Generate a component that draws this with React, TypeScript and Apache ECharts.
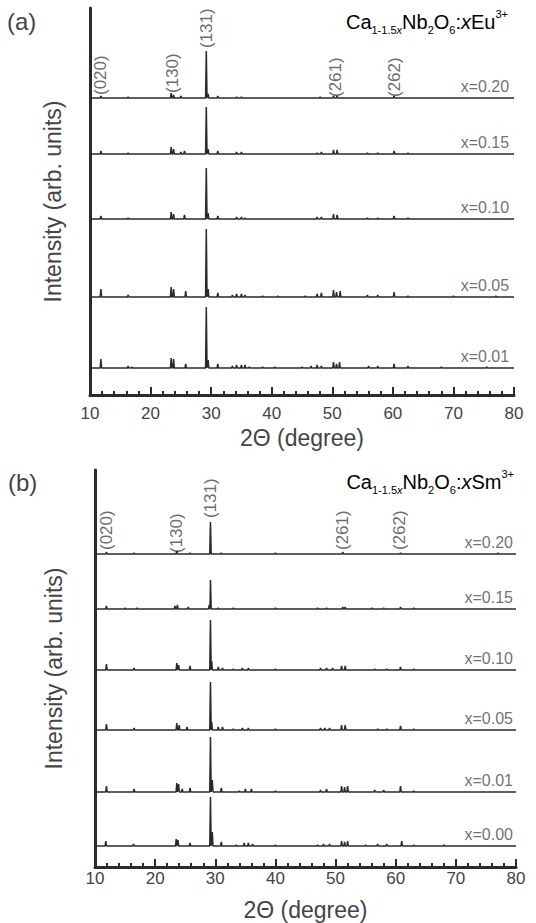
import React, { useEffect, useRef } from "react";
import * as echarts from "echarts";

// ---------- data ----------
const PEAK_LABELS = ["(020)", "(130)", "(131)", "(261)", "(262)"];
const EU_LABEL_POS = [11.8, 23.6, 29.2, 50.6, 60.3];
const EU_LABEL_Y = [300, 302, 347, 298, 298];
const SM_LABEL_POS = [11.9, 23.6, 29.2, 51.1, 60.6];
const SM_LABEL_Y = [317, 314, 349, 317, 317];

const EU_SAMPLES = ["x=0.20", "x=0.15", "x=0.10", "x=0.05", "x=0.01"];
const EU_OFFSETS = [297, 241, 176, 98, 27];
const SM_SAMPLES = ["x=0.20", "x=0.15", "x=0.10", "x=0.05", "x=0.01", "x=0.00"];
const SM_OFFSETS = [313, 258, 197, 137, 75, 21];

// Eu3+ patterns (peak 2θ positions and heights)
const EU020_POS = [11.8, 16.3, 23.4, 23.8, 25.0, 29.2, 29.5, 31.1, 34.2, 35.0, 48.0, 50.2, 50.8, 60.2];
const EU020_H = [2, 1, 5, 3, 2, 47, 4, 2, 1, 1, 1, 2, 2, 2];
const EU015_POS = [11.8, 16.3, 23.4, 23.8, 25.0, 25.6, 29.2, 29.5, 31.1, 34.2, 35.0, 47.5, 48.2, 50.2, 50.8, 55.8, 57.5, 60.2, 62.5];
const EU015_H = [3, 1, 7, 5, 2, 3, 47, 5, 3, 2, 2, 1, 2, 4, 4, 1, 1, 3, 1];
const EU010_POS = [11.8, 16.3, 23.4, 23.8, 25.6, 29.2, 29.5, 31.1, 34.2, 35.0, 35.6, 47.5, 48.2, 50.2, 50.8, 55.8, 57.5, 60.2, 62.5];
const EU010_H = [3, 1, 7, 5, 4, 51, 6, 3, 2, 2, 1, 2, 2, 5, 4, 1, 1, 3, 1];
const EU005_POS = [11.8, 16.3, 23.4, 23.8, 25.8, 29.2, 29.5, 31.1, 33.5, 34.2, 35.0, 35.6, 38.5, 41.0, 45.5, 47.5, 48.2, 50.2, 50.7, 51.3, 55.8, 57.5, 60.2, 62.5, 70.0, 77.0];
const EU005_H = [8, 2, 10, 8, 6, 68, 8, 4, 2, 3, 3, 2, 1, 1, 1, 3, 4, 7, 5, 6, 2, 2, 5, 1, 1, 1];
const EU001_POS = [11.8, 16.3, 16.9, 23.4, 23.8, 25.8, 29.2, 29.5, 31.1, 33.5, 34.2, 35.0, 35.6, 36.3, 38.5, 40.5, 45.0, 46.5, 47.5, 48.2, 50.2, 50.7, 51.2, 56.0, 57.5, 60.2, 62.5, 68.0, 75.5];
const EU001_H = [9, 2, 1, 10, 9, 4, 61, 8, 4, 2, 3, 3, 3, 1, 1, 1, 1, 2, 3, 2, 6, 4, 6, 2, 2, 4, 2, 1, 1];

// Sm3+ patterns
const SM020_POS = [11.9, 16.5, 23.6, 25.8, 29.2, 31.0, 40.0, 51.2, 60.8, 77.0];
const SM020_H = [2, 1, 3, 1, 32, 1, 1, 2, 1, 1];
const SM015_POS = [11.9, 15.0, 17.0, 23.3, 23.7, 25.5, 29.0, 29.2, 30.5, 33.0, 40.0, 47.0, 48.5, 51.2, 51.6, 56.0, 58.0, 60.8, 63.0];
const SM015_H = [3, 1, 1, 3, 4, 2, 4, 29, 1, 1, 1, 1, 1, 2, 2, 1, 1, 2, 1];
const SM010_POS = [11.9, 16.5, 23.6, 23.9, 25.8, 29.2, 29.4, 30.5, 31.2, 33.0, 34.5, 35.5, 40.0, 47.5, 48.5, 49.5, 51.0, 51.6, 56.5, 58.5, 60.8, 63.0];
const SM010_H = [6, 2, 7, 5, 4, 50, 9, 3, 2, 1, 2, 2, 1, 2, 2, 2, 4, 4, 1, 1, 3, 1];
const SM005_POS = [11.9, 16.5, 23.6, 24.0, 25.3, 29.2, 29.4, 30.5, 31.2, 33.0, 34.5, 35.5, 40.0, 47.5, 48.2, 49.0, 51.0, 51.6, 57.0, 58.5, 60.8, 63.0];
const SM005_H = [6, 2, 7, 5, 3, 48, 8, 3, 3, 1, 2, 2, 1, 2, 2, 2, 5, 5, 1, 1, 4, 1];
const SM001_POS = [11.9, 16.5, 23.6, 23.9, 24.5, 25.8, 29.2, 29.5, 31.0, 34.0, 35.0, 36.0, 40.0, 47.5, 48.5, 51.0, 51.5, 52.0, 56.5, 58.0, 60.8, 63.0];
const SM001_H = [6, 3, 9, 8, 3, 4, 55, 12, 4, 1, 3, 3, 1, 2, 3, 6, 5, 6, 2, 2, 6, 1];
const SM000_POS = [11.8, 16.4, 23.5, 23.8, 25.8, 29.2, 29.5, 31.0, 33.5, 34.8, 35.5, 36.2, 40.0, 47.0, 48.0, 49.0, 51.0, 51.5, 52.0, 55.0, 57.0, 58.5, 61.0, 63.0, 68.0];
const SM000_H = [5, 2, 7, 6, 3, 49, 14, 4, 1, 3, 3, 2, 1, 1, 2, 2, 5, 4, 5, 1, 2, 2, 5, 1, 1];

const EU_POS = [EU020_POS, EU015_POS, EU010_POS, EU005_POS, EU001_POS];
const EU_H = [EU020_H, EU015_H, EU010_H, EU005_H, EU001_H];
const SM_POS = [SM020_POS, SM015_POS, SM010_POS, SM005_POS, SM001_POS, SM000_POS];
const SM_H = [SM020_H, SM015_H, SM010_H, SM005_H, SM001_H, SM000_H];

const X_MIN = 10;
const X_MAX = 80;

// ---------- helpers ----------
function buildTrace(pos: number[], h: number[], offset: number, w = 0.12) {
  const pts: number[][] = [[X_MIN, offset]];
  pos.forEach((p, i) => {
    pts.push([p - w, offset]);
    pts.push([p, offset + h[i]]);
    pts.push([p + w, offset]);
  });
  pts.push([X_MAX, offset]);
  return pts;
}

const FONT = "Liberation Sans, Arial, sans-serif";
const TEXT = "#444";
const LINE = "#2a2a2a";

function axisPair(gridIndex: number, yMax: number, labelMargin: number, yNameGap: number) {
  const xAxis = {
    type: "value",
    gridIndex,
    min: X_MIN,
    max: X_MAX,
    interval: 10,
    name: "2\u0398 (degree)",
    nameLocation: "middle",
    nameGap: 31,
    nameTextStyle: { fontSize: 23, color: TEXT, fontFamily: FONT },
    axisLine: { show: true, lineStyle: { color: LINE, width: 3 } },
    axisTick: { show: true, inside: true, length: 8, lineStyle: { color: LINE, width: 2 } },
    minorTick: { show: true, splitNumber: 5, length: 4, lineStyle: { color: LINE, width: 2 } },
    axisLabel: { fontSize: 17, color: TEXT, fontFamily: FONT, margin: labelMargin },
    splitLine: { show: false },
    minorSplitLine: { show: false },
  };
  const yAxis = {
    type: "value",
    gridIndex,
    min: 0,
    max: yMax,
    name: "Intensity (arb. units)",
    nameLocation: "middle",
    nameGap: yNameGap,
    nameTextStyle: { fontSize: 23, color: TEXT, fontFamily: FONT },
    axisLine: { show: true, lineStyle: { color: LINE, width: 3 } },
    axisTick: { show: false },
    axisLabel: { show: false },
    splitLine: { show: false },
  };
  return { xAxis, yAxis };
}

export default function App() {
  const ref = useRef<HTMLDivElement>(null);

  useEffect(() => {
    if (!ref.current) return;
    const chart = echarts.init(ref.current, undefined, { renderer: "svg" });

    const TOP_H = 387;
    const BOT_H = 397;
    const a = axisPair(0, TOP_H, 10, 26);
    const b = axisPair(1, BOT_H, 3, 30);

    const series: any[] = [];
    EU_POS.forEach((pos, i) => {
      series.push({
        type: "line",
        xAxisIndex: 0,
        yAxisIndex: 0,
        data: buildTrace(pos, EU_H[i], EU_OFFSETS[i]),
        symbol: "none",
        lineStyle: { color: LINE, width: 1.5 },
        silent: true,
      });
    });
    SM_POS.forEach((pos, i) => {
      series.push({
        type: "line",
        xAxisIndex: 1,
        yAxisIndex: 1,
        data: buildTrace(pos, SM_H[i], SM_OFFSETS[i]),
        symbol: "none",
        lineStyle: { color: LINE, width: 1.5 },
        silent: true,
      });
    });

    const peakLabelSeries = (xi: number, posArr: number[], yArr: number[]) => ({
      type: "scatter",
      xAxisIndex: xi,
      yAxisIndex: xi,
      symbolSize: 0,
      silent: true,
      data: posArr.map((p, i) => ({ value: [p, yArr[i]], name: PEAK_LABELS[i] })),
      label: {
        show: true,
        position: "inside",
        rotate: 90,
        align: "left",
        verticalAlign: "middle",
        formatter: (d: any) => d.name,
        fontSize: 17,
        color: TEXT,
        fontFamily: FONT,
      },
    });
    series.push(peakLabelSeries(0, EU_LABEL_POS, EU_LABEL_Y));
    series.push(peakLabelSeries(1, SM_LABEL_POS, SM_LABEL_Y));

    const sampleLabelSeries = (xi: number, names: string[], offs: number[], xPos: number) => ({
      type: "scatter",
      xAxisIndex: xi,
      yAxisIndex: xi,
      symbolSize: 0,
      silent: true,
      data: names.map((n, i) => ({ value: [xPos, offs[i] + 12], name: n })),
      label: {
        show: true,
        position: "inside",
        align: "right",
        verticalAlign: "middle",
        formatter: (d: any) => d.name,
        fontSize: 16,
        color: "#4a4a4a",
        fontFamily: FONT,
      },
    });
    series.push(sampleLabelSeries(0, EU_SAMPLES, EU_OFFSETS, 79.2));
    series.push(sampleLabelSeries(1, SM_SAMPLES, SM_OFFSETS, 79.5));

    const richStyles = {
      n: { fontSize: 20, fontFamily: FONT, color: TEXT, verticalAlign: "top", lineHeight: 20, padding: [4, 0, 0, 0] },
      ni: { fontSize: 20, fontFamily: FONT, color: TEXT, fontStyle: "italic", verticalAlign: "top", lineHeight: 20, padding: [4, 0, 0, 0] },
      s: { fontSize: 11, fontFamily: FONT, color: TEXT, verticalAlign: "top", lineHeight: 11, padding: [16, 0, 0, 0] },
      si: { fontSize: 11, fontFamily: FONT, color: TEXT, fontStyle: "italic", verticalAlign: "top", lineHeight: 11, padding: [16, 0, 0, 0] },
      p: { fontSize: 11, fontFamily: FONT, color: TEXT, verticalAlign: "top", lineHeight: 11, padding: [0, 0, 0, 0] },
    };

    chart.setOption({
      animation: false,
      backgroundColor: "#ffffff",
      grid: [
        { left: 90, right: 22, top: 8, height: TOP_H },
        { left: 95, right: 20, top: 470, height: BOT_H },
      ],
      xAxis: [a.xAxis, b.xAxis],
      yAxis: [a.yAxis, b.yAxis],
      series,
      graphic: [
        { type: "text", left: 7, top: 9, style: { text: "(a)", fontSize: 24, fill: TEXT, fontFamily: FONT } },
        { type: "text", left: 8, top: 470, style: { text: "(b)", fontSize: 24, fill: TEXT, fontFamily: FONT } },
        {
          type: "text",
          right: 28,
          top: 8,
          style: {
            text: "{n|Ca}{s|1-1.5}{si|x}{n|Nb}{s|2}{n|O}{s|6}{n|:}{ni|x}{n|Eu}{p|3+}",
            rich: richStyles,
          },
        },
        {
          type: "text",
          right: 22,
          top: 468,
          style: {
            text: "{n|Ca}{s|1-1.5}{si|x}{n|Nb}{s|2}{n|O}{s|6}{n|:}{ni|x}{n|Sm}{p|3+}",
            rich: richStyles,
          },
        },
      ],
    });

    return () => chart.dispose();
  }, []);

  return (
    <div
      ref={ref}
      style={{ position: "fixed", left: 0, top: 0, width: 536, height: 923, background: "#fff" }}
    />
  );
}
